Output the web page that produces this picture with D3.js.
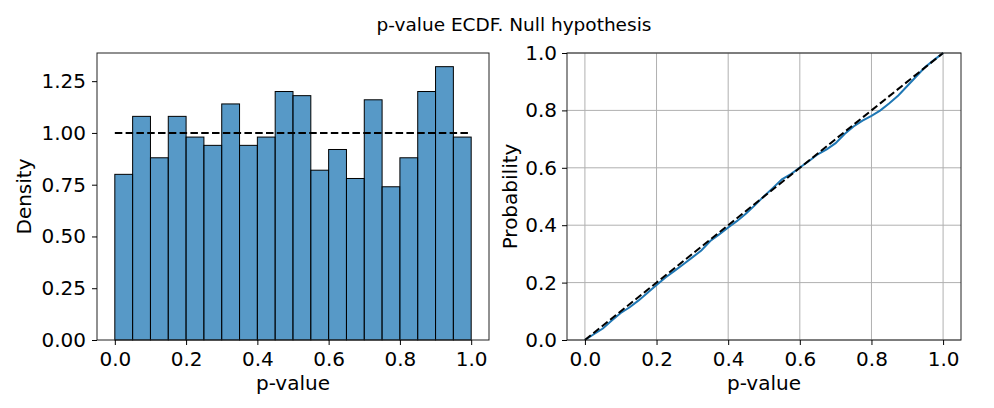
<!DOCTYPE html>
<html>
<head>
<meta charset="utf-8">
<script src="https://cdn.jsdelivr.net/npm/d3@7"></script>
<style>
  body { margin: 0; background: #fff; }
  text { font-family: "DejaVu Sans", sans-serif; fill: #000; }
</style>
</head>
<body>
<div id="chart"></div>
<script>
// histogram: bin edges (left side) and density per bin
const binStarts = [0.00, 0.05, 0.10, 0.15, 0.20, 0.25, 0.30, 0.35, 0.40, 0.45,
                   0.50, 0.55, 0.60, 0.65, 0.70, 0.75, 0.80, 0.85, 0.90, 0.95];
const binWidth = 0.05;
const density = [0.80, 1.08, 0.88, 1.08, 0.98, 0.94, 1.14, 0.94, 0.98, 1.20,
                 1.18, 0.82, 0.92, 0.78, 1.16, 0.74, 0.88, 1.20, 1.32, 0.98];

// ECDF
const ecdfX = [0.000, 0.025, 0.050, 0.075, 0.100, 0.125, 0.150, 0.175, 0.200, 0.225,
               0.250, 0.275, 0.300, 0.325, 0.350, 0.375, 0.400, 0.425, 0.450, 0.475,
               0.500, 0.525, 0.550, 0.575, 0.600, 0.625, 0.650, 0.675, 0.700, 0.725,
               0.750, 0.775, 0.800, 0.825, 0.850, 0.875, 0.900, 0.925, 0.950, 0.975, 1.000];
const ecdfY = [0.000, 0.020, 0.040, 0.068, 0.094, 0.114, 0.138, 0.165, 0.192, 0.218,
               0.241, 0.264, 0.288, 0.312, 0.345, 0.368, 0.392, 0.415, 0.441, 0.470,
               0.501, 0.530, 0.560, 0.578, 0.601, 0.623, 0.647, 0.664, 0.686, 0.718,
               0.744, 0.764, 0.781, 0.800, 0.825, 0.852, 0.885, 0.918, 0.951, 0.976, 1.000];

// reference (uniform) lines
const refX = [0, 1];
const densityRef = [1, 1];
const cdfRef = [0, 1];

const xTicks = [0, 0.2, 0.4, 0.6, 0.8, 1.0];
const densityTicks = [0, 0.25, 0.5, 0.75, 1.0, 1.25];
const probTicks = [0, 0.2, 0.4, 0.6, 0.8, 1.0];

const svgWidth = 994;
const svgHeight = 408;

const svg = d3.select("#chart")
  .append("svg")
  .attr("width", svgWidth)
  .attr("height", svgHeight);

svg.append("text")
  .attr("x", 514)
  .attr("y", 30.5)
  .attr("text-anchor", "middle")
  .attr("font-size", 18.5)
  .text("p-value ECDF. Null hypothesis");

const plotTop = 53, plotBottom = 340;
const blue = "#1f77b4";

function styleAxis(g) {
  g.selectAll("path.domain").remove();
  g.selectAll(".tick line").attr("stroke", "#000").attr("stroke-width", 1);
  g.selectAll(".tick text").attr("font-size", 20).attr("fill", "#000")
    .style("font-family", "DejaVu Sans, sans-serif");
}

function frame(g, x0, x1) {
  g.append("rect")
    .attr("x", x0).attr("y", plotTop)
    .attr("width", x1 - x0).attr("height", plotBottom - plotTop)
    .attr("fill", "none")
    .attr("stroke", "#222")
    .attr("stroke-width", 1);
}

// ---------- left: histogram ----------
const left = svg.append("g");
const x1 = d3.scaleLinear().domain([-0.05, 1.05]).range([97, 489]);
const y1 = d3.scaleLinear().domain([0, 1.386]).range([plotBottom, plotTop]);

left.selectAll("rect.bar")
  .data(binStarts)
  .enter()
  .append("rect")
  .attr("class", "bar")
  .attr("x", d => x1(d))
  .attr("width", d => x1(d + binWidth) - x1(d))
  .attr("y", (d, i) => y1(density[i]))
  .attr("height", (d, i) => y1(0) - y1(density[i]))
  .attr("fill", blue)
  .attr("fill-opacity", 0.75)
  .attr("stroke", "#000")
  .attr("stroke-width", 1);

left.append("path")
  .datum(refX)
  .attr("d", d3.line().x(d => x1(d)).y((d, i) => y1(densityRef[i])))
  .attr("fill", "none")
  .attr("stroke", "#000")
  .attr("stroke-width", 2)
  .attr("stroke-dasharray", "7.5,3.3");

frame(left, 97, 489);

left.append("g")
  .attr("transform", `translate(0, ${plotBottom})`)
  .call(d3.axisBottom(x1).tickValues(xTicks).tickFormat(d3.format(".1f")).tickSize(5).tickPadding(7))
  .call(styleAxis);

left.append("g")
  .attr("transform", "translate(97, 0)")
  .call(d3.axisLeft(y1).tickValues(densityTicks).tickFormat(d3.format(".2f")).tickSize(5).tickPadding(6))
  .call(styleAxis);

left.append("text")
  .attr("transform", `translate(31, ${(plotTop + plotBottom) / 2}) rotate(-90)`)
  .attr("text-anchor", "middle")
  .attr("font-size", 20)
  .text("Density");

left.append("text")
  .attr("x", (97 + 489) / 2)
  .attr("y", 390)
  .attr("text-anchor", "middle")
  .attr("font-size", 20)
  .text("p-value");

// ---------- right: ECDF ----------
const right = svg.append("g");
const x2 = d3.scaleLinear().domain([-0.05, 1.05]).range([567, 961]);
const y2 = d3.scaleLinear().domain([0, 1]).range([plotBottom, plotTop]);

right.append("g")
  .selectAll("line.vgrid")
  .data(xTicks)
  .enter()
  .append("line")
  .attr("x1", d => x2(d)).attr("x2", d => x2(d))
  .attr("y1", plotTop).attr("y2", plotBottom)
  .attr("stroke", "#b0b0b0")
  .attr("stroke-width", 1);

right.append("g")
  .selectAll("line.hgrid")
  .data(probTicks)
  .enter()
  .append("line")
  .attr("x1", 567).attr("x2", 961)
  .attr("y1", d => y2(d)).attr("y2", d => y2(d))
  .attr("stroke", "#b0b0b0")
  .attr("stroke-width", 1);

right.append("path")
  .datum(ecdfX)
  .attr("d", d3.line().x(d => x2(d)).y((d, i) => y2(ecdfY[i])))
  .attr("fill", "none")
  .attr("stroke", blue)
  .attr("stroke-width", 2);

right.append("path")
  .datum(refX)
  .attr("d", d3.line().x(d => x2(d)).y((d, i) => y2(cdfRef[i])))
  .attr("fill", "none")
  .attr("stroke", "#000")
  .attr("stroke-width", 2)
  .attr("stroke-dasharray", "7.5,3.3");

frame(right, 567, 961);

right.append("g")
  .attr("transform", `translate(0, ${plotBottom})`)
  .call(d3.axisBottom(x2).tickValues(xTicks).tickFormat(d3.format(".1f")).tickSize(5).tickPadding(7))
  .call(styleAxis);

right.append("g")
  .attr("transform", "translate(567, 0)")
  .call(d3.axisLeft(y2).tickValues(probTicks).tickFormat(d3.format(".1f")).tickSize(5).tickPadding(5))
  .call(styleAxis);

right.append("text")
  .attr("transform", `translate(517, ${(plotTop + plotBottom) / 2}) rotate(-90)`)
  .attr("text-anchor", "middle")
  .attr("font-size", 20)
  .text("Probability");

right.append("text")
  .attr("x", (567 + 961) / 2)
  .attr("y", 390)
  .attr("text-anchor", "middle")
  .attr("font-size", 20)
  .text("p-value");
</script>
</body>
</html>
